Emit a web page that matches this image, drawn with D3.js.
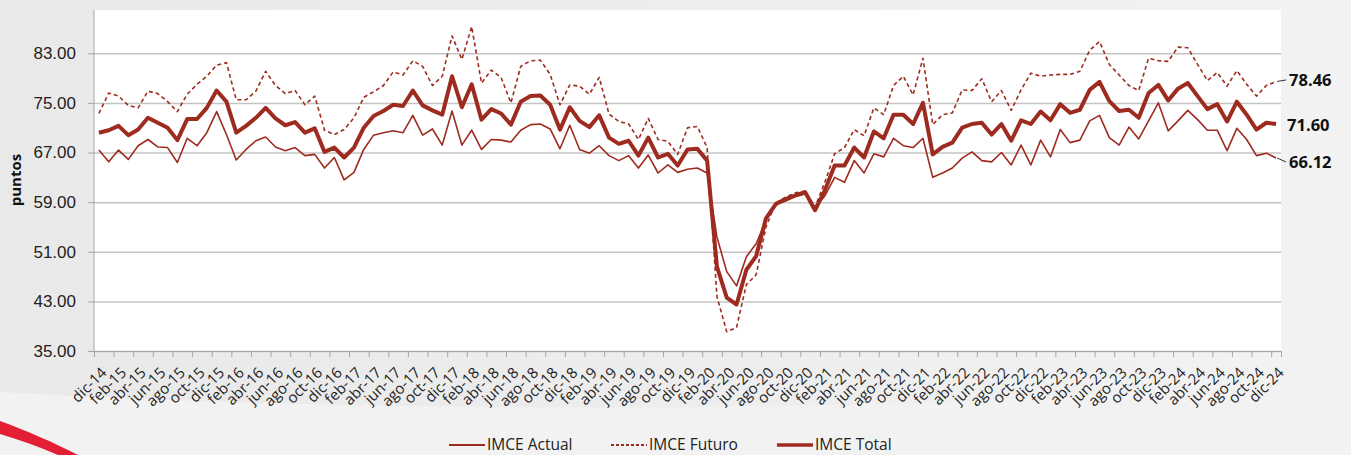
<!DOCTYPE html>
<html>
<head>
<meta charset="utf-8">
<script src="https://cdn.jsdelivr.net/npm/d3@7"></script>
<style>
  body { margin: 0; background: #ececec; }
  svg { display: block; font-family: "Open Sans", sans-serif; }
</style>
</head>
<body>
<div id="chart"></div>
<script>
// IMCE monthly, dic-14 .. dic-24
const imceActual = [
  67.4, 65.5, 67.4, 65.9, 68.1, 69.1, 67.9, 67.8, 65.4, 69.3, 68.1, 70.2, 73.6, 69.9, 65.8, 67.5, 68.9,
  69.5, 67.9, 67.3, 67.8, 66.5, 66.7, 64.5, 66.2, 62.6, 63.8, 67.5, 69.8, 70.2, 70.5, 70.2, 73.0, 69.8, 70.8,
  68.2, 73.7, 68.2, 70.6, 67.5, 69.1, 69.0, 68.7, 70.6, 71.5, 71.6, 70.8, 67.6, 71.4, 67.5, 66.9, 68.1,
  66.5, 65.7, 66.5, 64.5, 66.6, 63.7, 65.0, 63.8, 64.3, 64.5, 63.7, 53.4, 47.8, 45.5, 50.2, 52.3, 56.1,
  58.6, 59.2, 59.9, 60.3, 58.2, 60.0, 63.0, 62.2, 65.7, 63.7, 66.8, 66.3, 69.3, 68.1, 67.8, 69.3, 63.0, 63.7,
  64.5, 66.1, 67.1, 65.7, 65.5, 67.0, 65.0, 68.2, 65.0, 69.0, 66.3, 70.7, 68.6, 69.0, 72.1, 73.0, 69.4,
  68.2, 71.1, 69.2, 72.1, 75.0, 70.5, 72.1, 73.8, 72.3, 70.6, 70.6, 67.3, 70.9, 69.1, 66.5, 66.9, 66.12
];
const imceFuturo = [
  73.3, 76.6, 76.1, 74.6, 74.2, 76.9, 76.5, 75.2, 73.6, 76.4, 78.0, 79.3, 81.1, 81.5, 75.5, 75.5, 76.9,
  80.1, 77.8, 76.5, 77.0, 74.7, 76.1, 70.6, 69.9, 70.7, 72.6, 75.9, 76.8, 77.8, 80.0, 79.5, 81.8, 80.9, 77.8,
  79.3, 85.8, 82.0, 87.3, 78.2, 80.3, 79.1, 75.0, 80.9, 81.8, 81.9, 79.6, 74.7, 77.9, 77.7, 76.4, 79.1,
  73.2, 72.0, 71.6, 69.1, 72.5, 69.1, 68.8, 66.7, 71.0, 71.2, 67.8, 43.8, 38.1, 38.8, 45.7, 47.3, 55.0,
  58.9, 59.8, 60.5, 60.8, 58.2, 62.2, 66.8, 67.8, 70.7, 69.7, 74.2, 73.1, 77.8, 79.3, 76.3, 82.2, 71.5, 73.1,
  73.4, 77.1, 77.0, 78.9, 75.2, 77.0, 73.8, 77.1, 79.8, 79.3, 79.5, 79.6, 79.6, 80.1, 83.5, 84.9, 81.2,
  79.5, 77.8, 77.0, 82.2, 81.8, 81.7, 84.0, 83.9, 81.2, 78.6, 79.9, 77.7, 80.2, 78.0, 76.1, 77.8, 78.46
];
const imceTotal = [
  70.2, 70.6, 71.3, 69.8, 70.7, 72.6, 71.8, 71.0, 69.0, 72.4, 72.4, 74.2, 77.0, 75.2, 70.2, 71.3, 72.6,
  74.2, 72.5, 71.4, 71.9, 70.2, 70.9, 67.1, 67.8, 66.2, 67.8, 71.0, 72.9, 73.7, 74.7, 74.5, 77.0, 74.6, 73.8,
  73.1, 79.3, 74.3, 78.0, 72.3, 74.0, 73.3, 71.5, 75.2, 76.1, 76.2, 74.7, 70.7, 74.3, 72.1, 71.1, 73.0,
  69.4, 68.4, 68.9, 66.5, 69.4, 66.2, 66.8, 64.9, 67.5, 67.6, 65.7, 48.6, 43.6, 42.5, 48.1, 50.3, 56.4,
  58.7, 59.5, 60.1, 60.6, 57.7, 60.9, 64.9, 64.9, 67.8, 66.2, 70.4, 69.3, 73.1, 73.1, 71.6, 75.0, 66.7, 67.9,
  68.6, 71.0, 71.6, 71.8, 69.9, 71.6, 68.9, 72.2, 71.6, 73.6, 72.2, 74.8, 73.4, 73.9, 77.1, 78.4, 75.3,
  73.7, 73.9, 72.6, 76.6, 77.9, 75.4, 77.3, 78.2, 76.1, 74.0, 74.8, 72.0, 75.2, 73.1, 70.7, 71.8, 71.60
];
// one label every two months
const tickLabels = [
  "dic-14","feb-15","abr-15","jun-15","ago-15","oct-15","dic-15","feb-16","abr-16","jun-16","ago-16","oct-16",
  "dic-16","feb-17","abr-17","jun-17","ago-17","oct-17","dic-17","feb-18","abr-18","jun-18","ago-18","oct-18",
  "dic-18","feb-19","abr-19","jun-19","ago-19","oct-19","dic-19","feb-20","abr-20","jun-20","ago-20","oct-20",
  "dic-20","feb-21","abr-21","jun-21","ago-21","oct-21","dic-21","feb-22","abr-22","jun-22","ago-22","oct-22",
  "dic-22","feb-23","abr-23","jun-23","ago-23","oct-23","dic-23","feb-24","abr-24","jun-24","ago-24","oct-24",
  "dic-24"
];
const yTicks = [35, 43, 51, 59, 67, 75, 83];
const seriesNames = ["IMCE Actual", "IMCE Futuro", "IMCE Total"];

const width = 1351, height = 455;
const margin = {top: 10, right: 70, bottom: 104, left: 94};
const red = "#9e2b20";

const svg = d3.select("#chart").append("svg")
  .attr("width", width).attr("height", height);

// background
const defs = svg.append("defs");
const bg = defs.append("linearGradient").attr("id", "bg").attr("x1", 0).attr("x2", 1).attr("y1", 0).attr("y2", 0);
bg.append("stop").attr("offset", "0%").attr("stop-color", "#e9e9e9");
bg.append("stop").attr("offset", "60%").attr("stop-color", "#eeeeee");
bg.append("stop").attr("offset", "100%").attr("stop-color", "#f3f3f3");
svg.append("rect").attr("width", width).attr("height", height).attr("fill", "url(#bg)");
svg.append("path")
  .attr("d", "M0,392 C300,410 900,420 1351,378 L1351,455 L0,455 Z")
  .attr("fill", "#f2f2f2");
svg.append("path")
  .attr("d", "M0,421 C25,430 55,443 78,455 L58,455 C40,447 20,440 0,434 Z")
  .attr("fill", "#e31f36");

const n = imceTotal.length;
const x = d3.scaleBand().domain(d3.range(n)).range([margin.left, width - margin.right]);
const xl = d3.scaleLinear().domain([0, n]).range([margin.left, width - margin.right]);
const cx = i => x(i) + x.bandwidth() / 2;
const y = d3.scaleLinear().domain([35, 83]).range([height - margin.bottom, 53.3]);

svg.append("rect")
  .attr("x", margin.left).attr("y", margin.top)
  .attr("width", width - margin.right - margin.left)
  .attr("height", y(35) - margin.top)
  .attr("fill", "#fff");

// gridlines
svg.append("g")
  .attr("transform", `translate(${margin.left},0)`)
  .call(d3.axisLeft(y).tickValues(yTicks).tickSize(-(width - margin.right - margin.left)).tickFormat(""))
  .call(g => g.select(".domain").remove())
  .call(g => g.selectAll("line").attr("stroke", "#c4c4c4").attr("stroke-width", 1.5));

// y axis
svg.append("g")
  .attr("transform", `translate(${margin.left},0)`)
  .call(d3.axisLeft(y).tickValues(yTicks).tickSize(6).tickPadding(12).tickFormat(d3.format(".2f")))
  .call(g => g.select(".domain").attr("stroke", "#a6a6a6").attr("d", `M0,${margin.top}V${y(35)}`))
  .call(g => g.selectAll("line").attr("stroke", "#a6a6a6"))
  .call(g => g.selectAll("text").attr("font-size", 17).attr("fill", "#222"));

svg.append("text")
  .attr("transform", `translate(21,${180}) rotate(-90)`)
  .attr("text-anchor", "middle")
  .attr("font-size", 15).attr("font-weight", "bold").attr("fill", "#111")
  .text("puntos");

// x axis ticks
svg.append("g")
  .attr("transform", `translate(0,${y(35)})`)
  .call(d3.axisBottom(xl).tickValues(d3.range(0, n + 1, 2)).tickSize(6).tickFormat(""))
  .call(g => g.select(".domain").attr("stroke", "#a6a6a6"))
  .call(g => g.selectAll("line").attr("stroke", "#a6a6a6"));

svg.append("g")
  .selectAll("text")
  .data(tickLabels)
  .join("text")
  .attr("transform", (d, k) => `translate(${cx(k * 2) + 5},${y(35) + 19}) rotate(-45)`)
  .attr("text-anchor", "end")
  .attr("dy", "0.35em")
  .attr("font-size", 15).attr("fill", "#222")
  .text(d => d);

// lines
const line = d3.line().x((d, i) => cx(i)).y(d => y(d));
const series = [
  {name: seriesNames[0], values: imceActual, w: 1.6, dash: null},
  {name: seriesNames[1], values: imceFuturo, w: 1.6, dash: "4,3"},
  {name: seriesNames[2], values: imceTotal, w: 4, dash: null}
];
svg.append("g")
  .selectAll("path")
  .data(series)
  .join("path")
  .attr("fill", "none")
  .attr("stroke", red)
  .attr("stroke-width", d => d.w)
  .attr("stroke-dasharray", d => d.dash)
  .attr("stroke-linejoin", "round")
  .attr("d", d => line(d.values));

// end labels
const last = n - 1;
const endLabels = [
  {v: imceFuturo[last], ly: y(imceFuturo[last]) - 1.5, leader: true},
  {v: imceTotal[last], ly: y(imceTotal[last]) + 1, leader: false},
  {v: imceActual[last], ly: y(imceActual[last]) + 4, leader: true}
];
const eg = svg.append("g");
eg.selectAll("line")
  .data(endLabels.filter(d => d.leader))
  .join("line")
  .attr("x1", cx(last) + 1).attr("y1", d => y(d.v))
  .attr("x2", cx(last) + 10).attr("y2", d => d.ly)
  .attr("stroke", "#333").attr("stroke-width", 1);
eg.selectAll("text")
  .data(endLabels)
  .join("text")
  .attr("x", d => d.leader ? cx(last) + 13 : cx(last) + 11)
  .attr("y", d => d.ly)
  .attr("dy", "0.35em")
  .attr("font-size", 16.5).attr("font-weight", "bold").attr("fill", "#111")
  .text(d => d3.format(".2f")(d.v));

// legend
const legendX = [449, 611, 777];
const lg = svg.append("g").attr("transform", "translate(0,445)");
const item = lg.selectAll("g").data(series).join("g")
  .attr("transform", (d, i) => `translate(${legendX[i]},0)`);
item.append("line")
  .attr("x1", 0).attr("x2", 36)
  .attr("stroke", red)
  .attr("stroke-width", d => d.w === 4 ? 3.5 : 1.8)
  .attr("stroke-dasharray", d => d.dash ? "3,2" : null);
item.append("text")
  .attr("x", 38).attr("dy", "0.35em")
  .attr("font-size", 15.5).attr("fill", "#222")
  .text(d => d.name);
</script>
</body>
</html>
